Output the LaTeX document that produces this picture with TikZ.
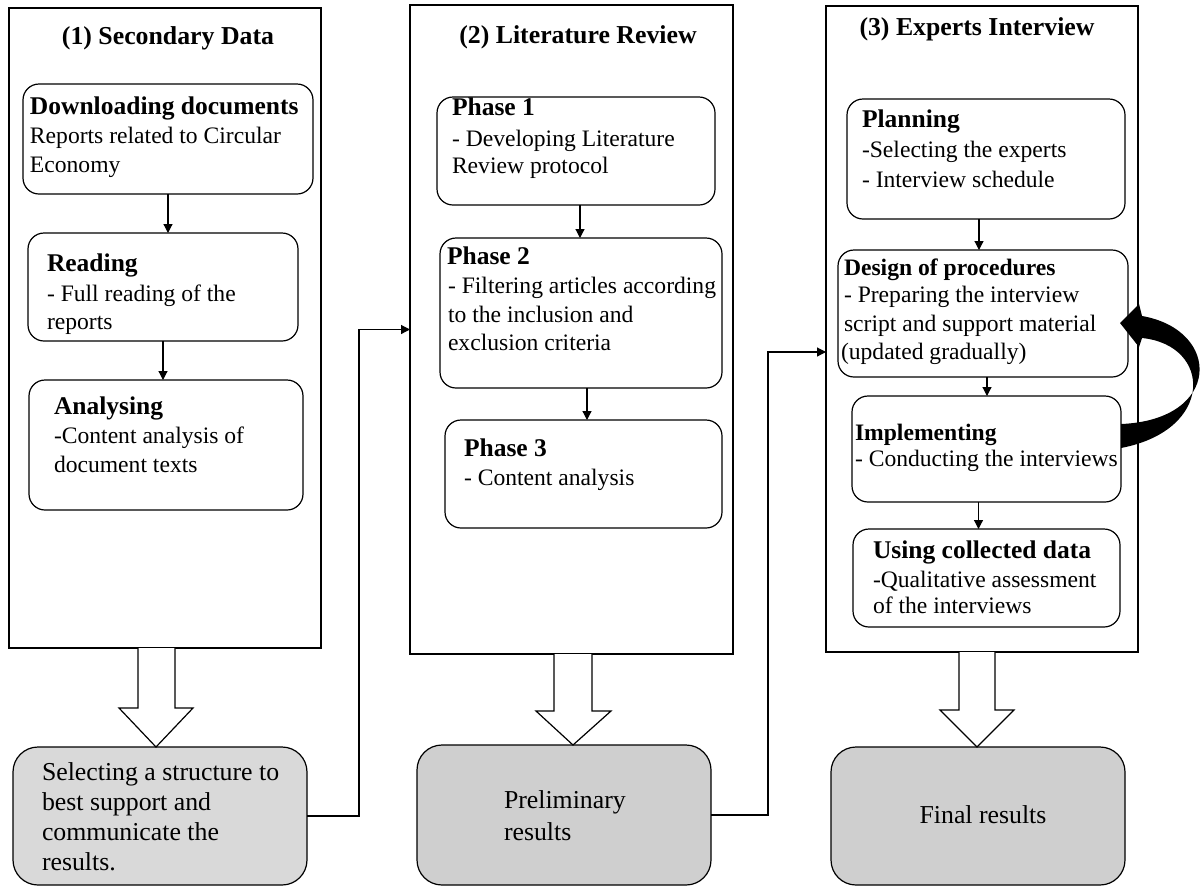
\documentclass[tikz,border=0pt]{standalone}
\usepackage{fontspec}
\setmainfont{Liberation Serif}
\usetikzlibrary{arrows.meta}
\tikzset{
  colbox/.style={draw, line width=1.2pt, inner sep=0pt, outer sep=0pt, anchor=north west},
  rbox/.style={draw, rounded corners=16pt, line width=1.2pt, inner sep=0pt, outer sep=0pt, anchor=north west},
  resbox/.style={rbox, rounded corners=25pt},
  txt/.style={anchor=base west, inner sep=0pt, outer sep=0pt, font=\fontsize{23.6}{28}\selectfont},
  hd/.style={anchor=base west, inner sep=0pt, outer sep=0pt, font=\fontsize{25.5}{30}\selectfont\bfseries},
  hds/.style={anchor=base west, inner sep=0pt, outer sep=0pt, font=\fontsize{23.6}{28}\selectfont\bfseries},
  ttl/.style={anchor=base, inner sep=0pt, outer sep=0pt, font=\fontsize{25.8}{30}\selectfont\bfseries},
  restxt/.style={anchor=base west, inner sep=0pt, outer sep=0pt, font=\fontsize{25.8}{30}\selectfont},
  arr/.style={line width=1.2pt, -{Triangle[length=9pt,width=9pt]}},
  hollow/.style={draw, line width=1.2pt, fill=white},
}
\begin{document}
\begin{tikzpicture}[x=1pt,y=-1pt]
\useasboundingbox (0,0) rectangle (1203,887);
\fill[white] (0,0) rectangle (1203,887);

% columns
\node[colbox, minimum width=312pt, minimum height=640pt] (C1) at (9,8) {};
\node[colbox, minimum width=323pt, minimum height=649pt] (C2) at (410,5) {};
\node[colbox, minimum width=312pt, minimum height=646pt] (C3) at (826,6) {};

\node[ttl] (T1) at (168,44) {(1) Secondary Data};
\node[ttl] (T2) at (578,43) {(2) Literature Review};
\node[ttl] (T3) at (977,35) {(3) Experts Interview};

% column 1 boxes
\node[rbox, minimum width=290pt, minimum height=110pt] (A) at (23,84) {};
\node[rbox, minimum width=270pt, minimum height=108pt] (B) at (28,233) {};
\node[rbox, minimum width=274pt, minimum height=130pt] (Cn) at (29,380) {};

\node[hd] (a1) at (30,114) {Downloading documents};
\node[txt] (a2) at (30,143) {Reports related to Circular};
\node[txt] (a3) at (30,172) {Economy};
\node[hd] (b1) at (47,271) {Reading};
\node[txt] (b2) at (47,301) {- Full reading of the};
\node[txt] (b3) at (47,329) {reports};
\node[hd] (c1) at (54,414) {Analysing};
\node[txt] (c2) at (54,443) {-Content analysis of};
\node[txt] (c3) at (54,472) {document texts};

\draw[arr] (A.south) -- (A.south |- B.north);
\draw[arr] (B.south) -- (B.south |- Cn.north);

% column 2 boxes
\node[rbox, minimum width=278pt, minimum height=108pt] (P1) at (437,97) {};
\node[rbox, minimum width=282pt, minimum height=150pt] (P2) at (440,238) {};
\node[rbox, minimum width=277pt, minimum height=108pt] (P3) at (445,420) {};

\node[hd] (p11) at (452,115) {Phase 1};
\node[txt] (p12) at (452,146) {- Developing Literature};
\node[txt] (p13) at (452,173) {Review protocol};
\node[hd] (p21) at (447,264) {Phase 2};
\node[txt] (p22) at (448,293) {- Filtering articles according};
\node[txt] (p23) at (448,322) {to the inclusion and};
\node[txt] (p24) at (448,350) {exclusion criteria};
\node[hd] (p31) at (464,456) {Phase 3};
\node[txt] (p32) at (464,485) {- Content analysis};

\draw[arr] ([xshift=4pt]P1.south) -- ([xshift=4pt]P1.south |- P2.north);
\draw[arr] ([xshift=6pt]P2.south) -- ([xshift=6pt]P2.south |- P3.north);

% column 3 boxes
\node[rbox, minimum width=278pt, minimum height=120pt] (PL) at (847,99) {};
\node[rbox, minimum width=290pt, minimum height=127pt] (DS) at (838,250) {};
\node[rbox, minimum width=269pt, minimum height=106pt] (IM) at (852,396) {};
\node[rbox, minimum width=267pt, minimum height=98pt] (US) at (853,529) {};

\node[hd] (q11) at (862,127) {Planning};
\node[txt] (q12) at (862,157) {-Selecting the experts};
\node[txt] (q13) at (862,187) {- Interview schedule};
\node[hds] (q21) at (844,275) {Design of procedures};
\node[txt] (q22) at (844,302) {- Preparing the interview};
\node[txt] (q23) at (844,331) {script and support material};
\node[txt] (q24) at (841,359) {(updated gradually)};
\node[hds] (q31) at (855,440) {Implementing};
\node[txt] (q32) at (855,466) {- Conducting the interviews};
\node[hd] (q41) at (873,558) {Using collected data};
\node[txt] (q42) at (873,587) {-Qualitative assessment};
\node[txt] (q43) at (873,613) {of the interviews};

\draw[arr] ([xshift=-7pt]PL.south) -- ([xshift=-7pt]PL.south |- DS.north);
\draw[arr] ([xshift=4pt]DS.south) -- ([xshift=4pt]DS.south |- IM.north);
\draw[arr] ([xshift=-8pt]IM.south) -- ([xshift=-8pt]IM.south |- US.north);

% curved feedback arrow
\fill[black] (1120,323) -- (1139,304) -- (1142,316)
  .. controls (1222,330) and (1222,420) .. (1121,424)
  -- (1121,448)
  .. controls (1215,430) and (1212,345) .. (1142,338)
  -- (1139,347) -- cycle;

% result boxes
\node[resbox, fill=black!15, minimum width=294pt, minimum height=138pt] (R1) at (13,747) {};
\node[resbox, fill=black!19, minimum width=294pt, minimum height=140pt] (R2) at (417,745) {};
\node[resbox, fill=black!19, minimum width=294pt, minimum height=138pt] (R3) at (831,747) {};

\node[restxt] (r11) at (42,780) {Selecting a structure to};
\node[restxt] (r12) at (42,810) {best support and};
\node[restxt] (r13) at (42,840) {communicate the};
\node[restxt] (r14) at (42,870) {results.};
\node[restxt] (r21) at (504,808) {Preliminary};
\node[restxt] (r22) at (504,840) {results};
\node[restxt, anchor=base] (r31) at (983,823) {Final results};

% hollow block arrows
\draw[hollow] (138,648) -- (138,708) -- (119,708) -- (156,747) -- (193,708) -- (175,708) -- (175,648);
\draw[hollow] (554,654) -- (554,711) -- (536,711) -- (573,745) -- (611,711) -- (592,711) -- (592,654);
\draw[hollow] (959,652) -- (959,710) -- (940,710) -- (977,747) -- (1014,710) -- (995,710) -- (995,652);

% connectors between stages
\draw[arr] (R1.east) -- ++(52,0) |- (C2.west);
\draw[arr] (R2.east) -- ++(57,0) |- ([yshift=-23pt]C3.west);
\end{tikzpicture}
\end{document}
